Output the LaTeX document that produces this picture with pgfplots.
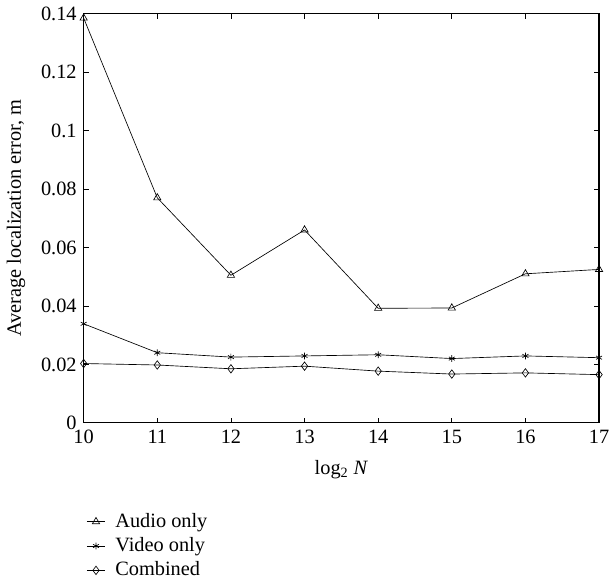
\documentclass[border=0pt]{standalone}
\usepackage{fontspec}
\setmainfont{Liberation Serif}
\usepackage{pgfplots}
\pgfplotsset{compat=1.18}
\begin{document}
\fontsize{15.5}{18}\selectfont
\begin{tikzpicture}
\begin{axis}[
  scale only axis,
  width=393pt, height=312pt,
  xmin=10, xmax=17, ymin=0, ymax=0.14,
  xtick={10,...,17},
  ytick={0,0.02,0.04,0.06,0.08,0.1,0.12,0.14},
  yticklabels={0,0.02,0.04,0.06,0.08,0.1,0.12,0.14},
  /pgf/number format/assume math mode=true,
  tick style={black, line width=0.6pt},
  major tick length=4pt,
  axis line style={line width=0.9pt},
  xlabel={log\textsubscript{2} \textit{N}},
  ylabel={Average localization error, m},
  every axis label/.append style={font=\fontsize{15.5}{18}\selectfont},
  ticklabel style={font=\fontsize{15.5}{18}\selectfont},
  xlabel style={yshift=-2pt},
  ylabel style={yshift=1.5pt},
  legend style={at={(0.005,-0.215)}, anchor=north west, draw=none, fill=none,
    font=\fontsize{15.5}{18}\selectfont, row sep=2.5pt, column sep=6pt, inner sep=0pt,
    nodes={inner sep=1.5pt}},
  legend cell align=left,
  legend image code/.code={
    \draw[#1,mark=none] (0pt,0pt) -- (14pt,0pt);
    \path[#1] plot coordinates {(7pt,0pt)};},
]
\addplot[black, line width=0.5pt, mark=triangle, mark size=3.2pt, mark options={solid}] coordinates {
(10,0.1385) (11,0.077) (12,0.0505) (13,0.066) (14,0.0392) (15,0.0393) (16,0.051) (17,0.0525)};
\addlegendentry{Audio only}
\addplot[black, line width=0.5pt, mark=asterisk, mark size=2.6pt] coordinates {
(10,0.0339) (11,0.0240) (12,0.0225) (13,0.0229) (14,0.0233) (15,0.0220) (16,0.0229) (17,0.0223)};
\addlegendentry{Video only}
\addplot[black, line width=0.5pt, mark=diamond, mark size=3.2pt] coordinates {
(10,0.0203) (11,0.0198) (12,0.0185) (13,0.0194) (14,0.0177) (15,0.0167) (16,0.0171) (17,0.0165)};
\addlegendentry{Combined}
\end{axis}
\end{tikzpicture}
\end{document}
